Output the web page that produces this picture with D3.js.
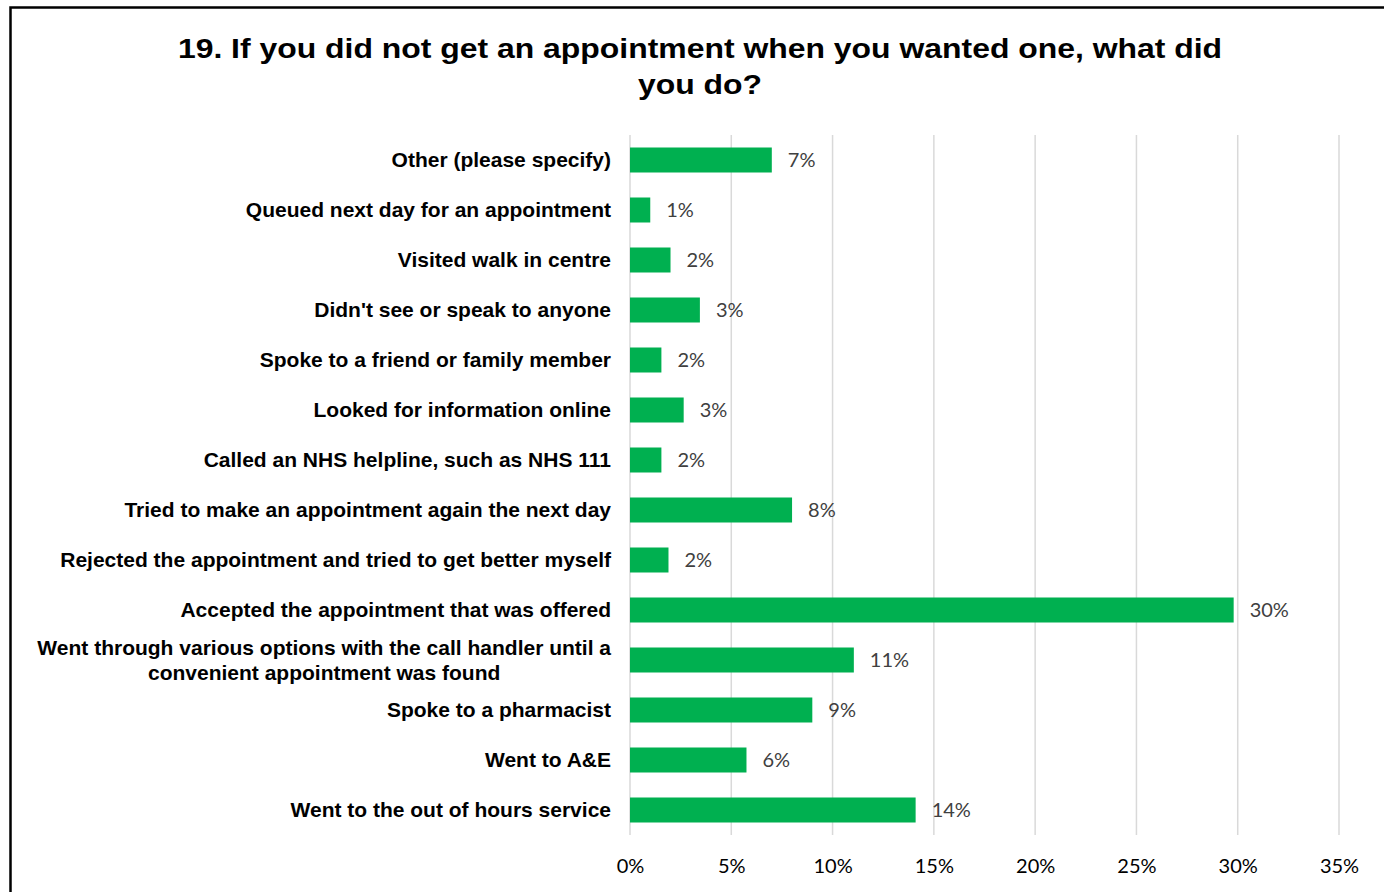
<!DOCTYPE html>
<html>
<head>
<meta charset="utf-8">
<script src="https://cdn.jsdelivr.net/npm/d3@7"></script>
<style>
  html, body { margin: 0; padding: 0; background: #fff; }
  svg { display: block; }
</style>
</head>
<body>
<svg id="chart" width="1384" height="892"></svg>
<script>
// Survey responses, top to bottom
const categories = [
  "Other (please specify)",
  "Queued next day for an appointment",
  "Visited walk in centre",
  "Didn't see or speak to anyone",
  "Spoke to a friend or family member",
  "Looked for information online",
  "Called an NHS helpline, such as NHS 111",
  "Tried to make an appointment again the next day",
  "Rejected the appointment and tried to get better myself",
  "Accepted the appointment that was offered",
  "Went through various options with the call handler until a convenient appointment was found",
  "Spoke to a pharmacist",
  "Went to A&E",
  "Went to the out of hours service"
];
// Share of respondents (%)
const values = [7.0, 1.0, 2.0, 3.45, 1.55, 2.65, 1.55, 8.0, 1.9, 29.8, 11.05, 9.0, 5.75, 14.1];
const tickValues = [0, 5, 10, 15, 20, 25, 30, 35];
const titleLines = [
  "19. If you did not get an appointment when you wanted one, what did",
  "you do?"
];

const svg = d3.select("#chart");
const green = "#00B050";

// Outer frame of the chart area
svg.append("rect")
  .attr("x", 10.5).attr("y", 7.5)
  .attr("width", 1400).attr("height", 920)
  .attr("fill", "#fff").attr("stroke", "#000").attr("stroke-width", 2.5);

// Title (slightly widened lettering)
svg.append("g")
  .attr("transform", "translate(700,0) scale(1.14,1)")
  .append("text")
  .attr("x", 0).attr("y", 58)
  .attr("text-anchor", "middle")
  .attr("font-family", "Liberation Sans, Arial, sans-serif")
  .attr("font-weight", "bold").attr("font-size", 28).attr("fill", "#000")
  .selectAll("tspan").data(titleLines).join("tspan")
  .attr("x", 0).attr("dy", (d, i) => i === 0 ? 0 : 36)
  .text(d => d);

const x = d3.scaleLinear().domain([0, 35]).range([630, 1339]);
const y = d3.scaleBand().domain(categories).range([135, 835])
  .paddingInner(0.5).paddingOuter(0.25);

// Vertical gridlines
svg.append("g").selectAll("line").data(tickValues).join("line")
  .attr("x1", d => x(d)).attr("x2", d => x(d))
  .attr("y1", 135).attr("y2", 835)
  .attr("stroke", "#d9d9d9").attr("stroke-width", 1.5);

// Bottom axis labels
const xAxis = d3.axisBottom(x).tickValues(tickValues).tickSize(0).tickPadding(0)
  .tickFormat(d => d + "%");
const ax = svg.append("g").attr("transform", "translate(0,873)").call(xAxis);
ax.select(".domain").remove();
ax.selectAll("text")
  .attr("font-family", "Lato, Calibri, sans-serif")
  .attr("font-size", 20).attr("fill", "#000").attr("dy", 0);

// Bars
svg.append("g").selectAll("rect").data(values).join("rect")
  .attr("x", x(0))
  .attr("y", (d, i) => y(categories[i]))
  .attr("width", d => x(d) - x(0))
  .attr("height", y.bandwidth())
  .attr("fill", green);

// Value labels
svg.append("g").selectAll("text").data(values).join("text")
  .attr("x", d => x(d) + 16)
  .attr("y", (d, i) => y(categories[i]) + y.bandwidth() / 2)
  .attr("dy", "0.35em")
  .attr("font-family", "Lato, Calibri, sans-serif")
  .attr("font-size", 20).attr("fill", "#404040")
  .text(d => Math.round(d) + "%");

// Category labels, wrapped when too wide and centred as a block
const labelRight = 611;
const maxWidth = 600;
const lineHeight = 25;
const labelG = svg.append("g")
  .attr("font-family", "Liberation Sans, Arial, sans-serif")
  .attr("font-weight", "bold").attr("font-size", 21).attr("fill", "#000");

categories.forEach(cat => {
  const cy = y(cat) + y.bandwidth() / 2;
  const t = labelG.append("text").attr("text-anchor", "end");
  // greedy word wrap
  const words = cat.split(" ");
  const lines = [];
  let line = [];
  const probe = labelG.append("text");
  words.forEach(w => {
    const trial = line.concat(w).join(" ");
    probe.text(trial);
    if (probe.node().getComputedTextLength() > maxWidth && line.length) {
      lines.push(line.join(" "));
      line = [w];
    } else {
      line.push(w);
    }
  });
  lines.push(line.join(" "));
  let widest = 0;
  lines.forEach(l => { probe.text(l); widest = Math.max(widest, probe.node().getComputedTextLength()); });
  probe.remove();

  if (lines.length === 1) {
    t.attr("x", labelRight).attr("y", cy).attr("dy", "0.35em").text(lines[0]);
  } else {
    const cx = labelRight - widest / 2;
    const top = cy - (lines.length - 1) * lineHeight / 2;
    t.attr("text-anchor", "middle");
    lines.forEach((l, i) => {
      t.append("tspan").attr("x", cx).attr("y", top + i * lineHeight)
        .attr("dy", "0.35em").text(l);
    });
  }
});
</script>
</body>
</html>
